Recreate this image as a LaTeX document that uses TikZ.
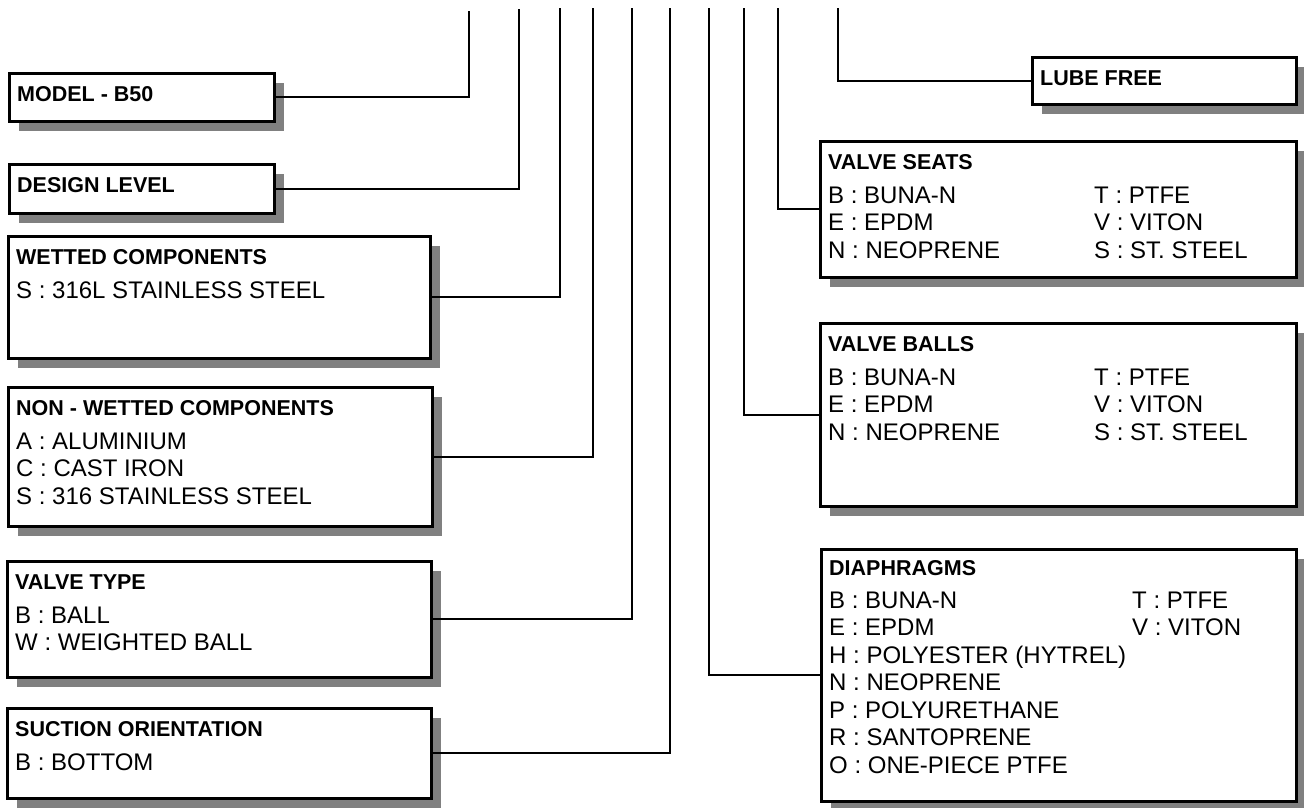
\documentclass[tikz,border=0pt]{standalone}
\usepackage{fontspec}
\setmainfont{Liberation Sans}
\usetikzlibrary{shadows}
\definecolor{shadowgrey}{HTML}{808080}

\tikzset{
  codebox/.style={draw, line width=2.5pt, fill=white, anchor=north west, inner sep=0pt,
    drop shadow={shadow xshift=10pt, shadow yshift=-10pt, fill=shadowgrey, opacity=1}},
  boxtitle/.style={font=\fontsize{21.5}{24}\selectfont\bfseries, anchor=base west, inner sep=0pt},
  boxitem/.style={font=\fontsize{24}{27}\selectfont, anchor=base west, inner sep=0pt},
  lead/.style={line width=2pt},
}

\begin{document}
\begin{tikzpicture}[x=1pt, y=-1pt]
  \useasboundingbox (0,0) rectangle (1304,807);

  % Code boxes: name/x/y/width/height
  \foreach \n/\x/\y/\w/\h in {
    model/8/72/265/48, design/8/163/265/49, wetted/7/235/422/122,
    nonwet/7/386/424/139, vtype/6/560/424/116, suction/6/707/424/90,
    lube/1031/56/264/47, seats/819/140/476/136, balls/819/322/476/183,
    diaph/820/548/475/252}
    \node[codebox, minimum width=\w pt, minimum height=\h pt] (\n) at (\x,\y) {};

  % Box titles
  \foreach \n/\t in {
    model/MODEL - B50, design/DESIGN LEVEL, wetted/WETTED COMPONENTS,
    nonwet/NON - WETTED COMPONENTS, vtype/VALVE TYPE, suction/SUCTION ORIENTATION,
    lube/LUBE FREE, seats/VALVE SEATS, balls/VALVE BALLS}
    \node[boxtitle] (\n-title) at ([shift={(9,29)}]\n.north west) {\t};
  \node[boxtitle] (diaph-title) at ([shift={(9,27)}]diaph.north west) {DIAPHRAGMS};

  % Options, left side
  \node[boxitem] (wetted-0) at ([shift={(9,63)}]wetted.north west) {S : 316L STAINLESS STEEL};
  \foreach \t [count=\i from 0] in {A : ALUMINIUM, C : CAST IRON, S : 316 STAINLESS STEEL}
    \node[boxitem] (nonwet-\i) at ([shift={(9,63+27.5*\i)}]nonwet.north west) {\t};
  \foreach \t [count=\i from 0] in {B : BALL, W : WEIGHTED BALL}
    \node[boxitem] (vtype-\i) at ([shift={(9,63+27.5*\i)}]vtype.north west) {\t};
  \node[boxitem] (suction-0) at ([shift={(9,63)}]suction.north west) {B : BOTTOM};

  % Options, right side
  \foreach \n in {seats, balls}
    \foreach \a/\b [count=\i from 0] in {B : BUNA-N/T : PTFE, E : EPDM/V : VITON, N : NEOPRENE/S : ST. STEEL} {
      \node[boxitem] (\n-a\i) at ([shift={(9,63+27.5*\i)}]\n.north west) {\a};
      \node[boxitem] (\n-b\i) at ([shift={(275,63+27.5*\i)}]\n.north west) {\b};
    }
  \foreach \t [count=\i from 0] in {B : BUNA-N, E : EPDM, H : POLYESTER (HYTREL), N : NEOPRENE,
      P : POLYURETHANE, R : SANTOPRENE, O : ONE-PIECE PTFE}
    \node[boxitem] (diaph-a\i) at ([shift={(9,60+27.5*\i)}]diaph.north west) {\t};
  \foreach \t [count=\i from 0] in {T : PTFE, V : VITON}
    \node[boxitem] (diaph-b\i) at ([shift={(312,60+27.5*\i)}]diaph.north west) {\t};

  % Leads up to the model code
  \foreach \n/\x/\y in {model/469/11, design/519/9, wetted/560/8, nonwet/593/8, vtype/632/8, suction/670/8} {
    \coordinate (\n-top) at (\x,\y);
    \draw[lead] (\n.east) -| (\n-top);
  }
  \foreach \n/\x in {diaph/709, balls/744, seats/778, lube/838} {
    \coordinate (\n-top) at (\x,8);
    \draw[lead] (\n.west) -| (\n-top);
  }
\end{tikzpicture}
\end{document}
